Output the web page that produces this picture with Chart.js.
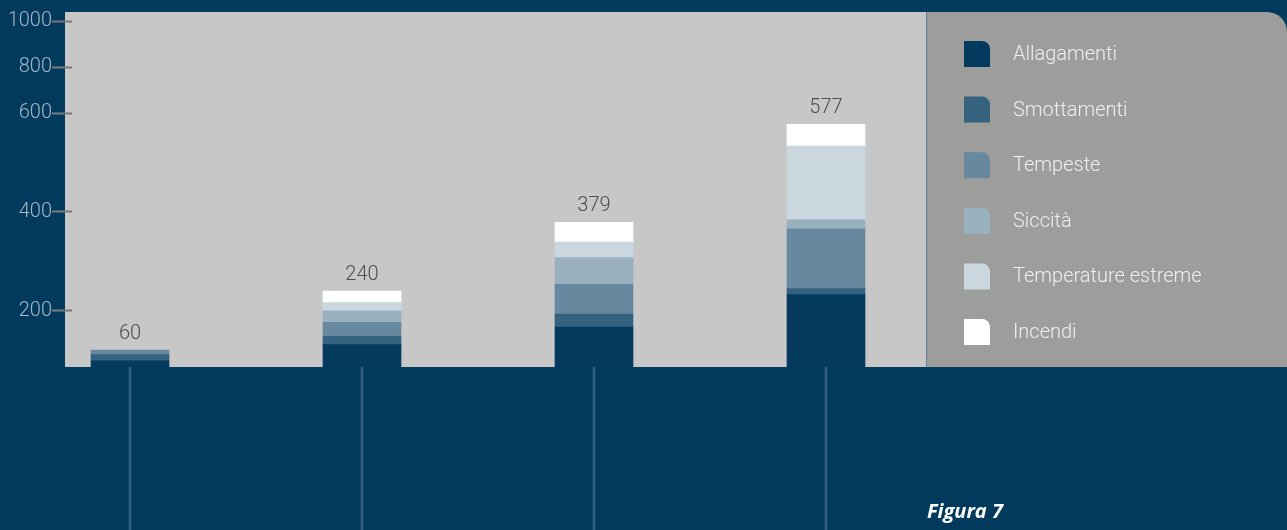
<!DOCTYPE html>
<html>
<head>
<meta charset="utf-8">
<script src="https://cdn.jsdelivr.net/npm/chart.js@4.4.1/dist/chart.umd.min.js"></script>
<style>
  html, body { margin: 0; padding: 0; background: #023a5d; }
  #wrap { width: 1287px; height: 530px; position: relative; }
</style>
</head>
<body>
<div id="wrap"><canvas id="grafico" width="1287" height="530"></canvas></div>
<script>
// dati
const categories = ['1', '2', '3', '4'];
const allagamenti = [22, 80, 142, 233];
const smottamenti = [22, 29, 47, 12];
const tempeste = [16, 50, 65, 121];
const siccita = [0, 41, 54, 18];
const temperatureEstreme = [0, 17, 31, 149];
const incendi = [0, 23, 40, 44];
const yTicks = [200, 400, 600, 800, 1000];

// asse y a tratti: valore -> frazione dell'altezza
const yStops = [[0, 0], [200, 0.162], [400, 0.448], [600, 0.734], [800, 0.867], [1000, 1]];

class PiecewiseScale extends Chart.LinearScale {
  toDecimal(v) {
    for (let i = 1; i < yStops.length; i++) {
      if (v <= yStops[i][0] || i === yStops.length - 1) {
        const [v0, d0] = yStops[i - 1], [v1, d1] = yStops[i];
        return d0 + (v - v0) / (v1 - v0) * (d1 - d0);
      }
    }
  }
  getPixelForValue(value) {
    if (value === null || isNaN(value)) return NaN;
    return this.getPixelForDecimal(this.toDecimal(value));
  }
  getValueForPixel(pixel) {
    const d = this.getDecimalForPixel(pixel);
    for (let i = 1; i < yStops.length; i++) {
      if (d <= yStops[i][1] || i === yStops.length - 1) {
        const [v0, d0] = yStops[i - 1], [v1, d1] = yStops[i];
        return v0 + (d - d0) / (d1 - d0) * (v1 - v0);
      }
    }
  }
}
PiecewiseScale.id = 'piecewise';
PiecewiseScale.defaults = Chart.LinearScale.defaults;
Chart.register(PiecewiseScale);

const series = [
  { label: 'Allagamenti', data: allagamenti, color: '#033a5d' },
  { label: 'Smottamenti', data: smottamenti, color: '#35637f' },
  { label: 'Tempeste', data: tempeste, color: '#67899f' },
  { label: 'Siccità', data: siccita, color: '#99b0bf' },
  { label: 'Temperature estreme', data: temperatureEstreme, color: '#cbd7df' },
  { label: 'Incendi', data: incendi, color: '#ffffff' }
];

const FONT = 'Roboto';

// sfondo: area grigia, pannello legenda, linee sotto le barre
const sfondo = {
  id: 'sfondo',
  beforeDraw(chart) {
    const ctx = chart.ctx;
    const area = chart.chartArea;
    ctx.save();
    ctx.fillStyle = '#c7c7c7';
    ctx.fillRect(65, 12, 861, area.bottom - 12);

    // pannello legenda con angolo arrotondato
    const x0 = 926, y0 = 12, x1 = 1287, y1 = area.bottom, r = 20;
    ctx.beginPath();
    ctx.moveTo(x0, y0);
    ctx.lineTo(x1 - r, y0);
    ctx.arcTo(x1, y0, x1, y0 + r, r);
    ctx.lineTo(x1, y1);
    ctx.lineTo(x0, y1);
    ctx.closePath();
    ctx.fillStyle = '#9d9d9b';
    ctx.fill();
    ctx.fillStyle = '#5f7f95';
    ctx.fillRect(926, 12, 1, y1 - 12);

    // linee verticali sotto ogni barra
    const xs = chart.scales.x;
    ctx.strokeStyle = '#33607f';
    ctx.lineWidth = 2.5;
    categories.forEach((c, i) => {
      const x = xs.getPixelForValue(i);
      ctx.beginPath();
      ctx.moveTo(x, area.bottom);
      ctx.lineTo(x, chart.height);
      ctx.stroke();
    });
    ctx.restore();
  },
  afterDraw(chart) {
    const ctx = chart.ctx;
    ctx.save();

    // totali sopra le barre
    const last = chart.getDatasetMeta(chart.data.datasets.length - 1);
    ctx.font = '300 20px ' + FONT;
    ctx.fillStyle = '#4d4d4d';
    ctx.textAlign = 'center';
    ctx.textBaseline = 'alphabetic';
    categories.forEach((c, i) => {
      let tot = 0;
      series.forEach(s => { tot += s.data[i]; });
      const el = last.data[i];
      ctx.fillText(String(tot), el.x, el.y - 11);
    });

    // legenda
    const sw = 26, r = 8;
    chart.data.datasets.forEach((ds, i) => {
      const x = 964, y = 41 + i * 55.6;
      ctx.beginPath();
      ctx.moveTo(x, y);
      ctx.lineTo(x + sw - r, y);
      ctx.arcTo(x + sw, y, x + sw, y + r, r);
      ctx.lineTo(x + sw, y + sw);
      ctx.lineTo(x, y + sw);
      ctx.closePath();
      ctx.fillStyle = ds.backgroundColor;
      ctx.fill();
      ctx.font = '300 20px ' + FONT;
      ctx.fillStyle = '#eeeeee';
      ctx.textAlign = 'left';
      ctx.fillText(ds.label, 1013, y + 19);
    });

    ctx.font = 'italic 700 20px "Open Sans"';
    ctx.fillStyle = '#ffffff';
    ctx.textAlign = 'left';
    ctx.fillText('Figura 7', 927, 518);
    ctx.restore();
  }
};

new Chart(document.getElementById('grafico'), {
  type: 'bar',
  data: {
    datasets: series.map(s => ({
      label: s.label,
      data: s.data.map((v, i) => ({ x: i, y: v })),
      backgroundColor: s.color,
      borderWidth: 0,
      barThickness: 78
    }))
  },
  options: {
    responsive: false,
    animation: false,
    layout: { padding: { left: 0, top: 21, right: 345, bottom: 163 } },
    plugins: {
      legend: { display: false },
      tooltip: { enabled: false }
    },
    scales: {
      x: {
        type: 'linear',
        min: -0.25,
        max: 3.5,
        offset: false,
        stacked: true,
        display: false
      },
      y: {
        type: 'piecewise',
        min: 0,
        max: 1000,
        stacked: true,
        position: 'left',
        afterBuildTicks(s) { s.ticks = yTicks.map(v => ({ value: v })); },
        afterFit(s) { s.width = 72; },
        border: { display: false },
        grid: {
          drawOnChartArea: false,
          tickLength: 20,
          tickColor: '#7a7a7a',
          tickWidth: 2
        },
        ticks: {
          padding: 0,
          color: '#a3b7c6',
          font: { family: FONT, size: 20, weight: '300' },
          callback: v => String(v)
        }
      }
    }
  },
  plugins: [sfondo]
});
</script>
</body>
</html>
